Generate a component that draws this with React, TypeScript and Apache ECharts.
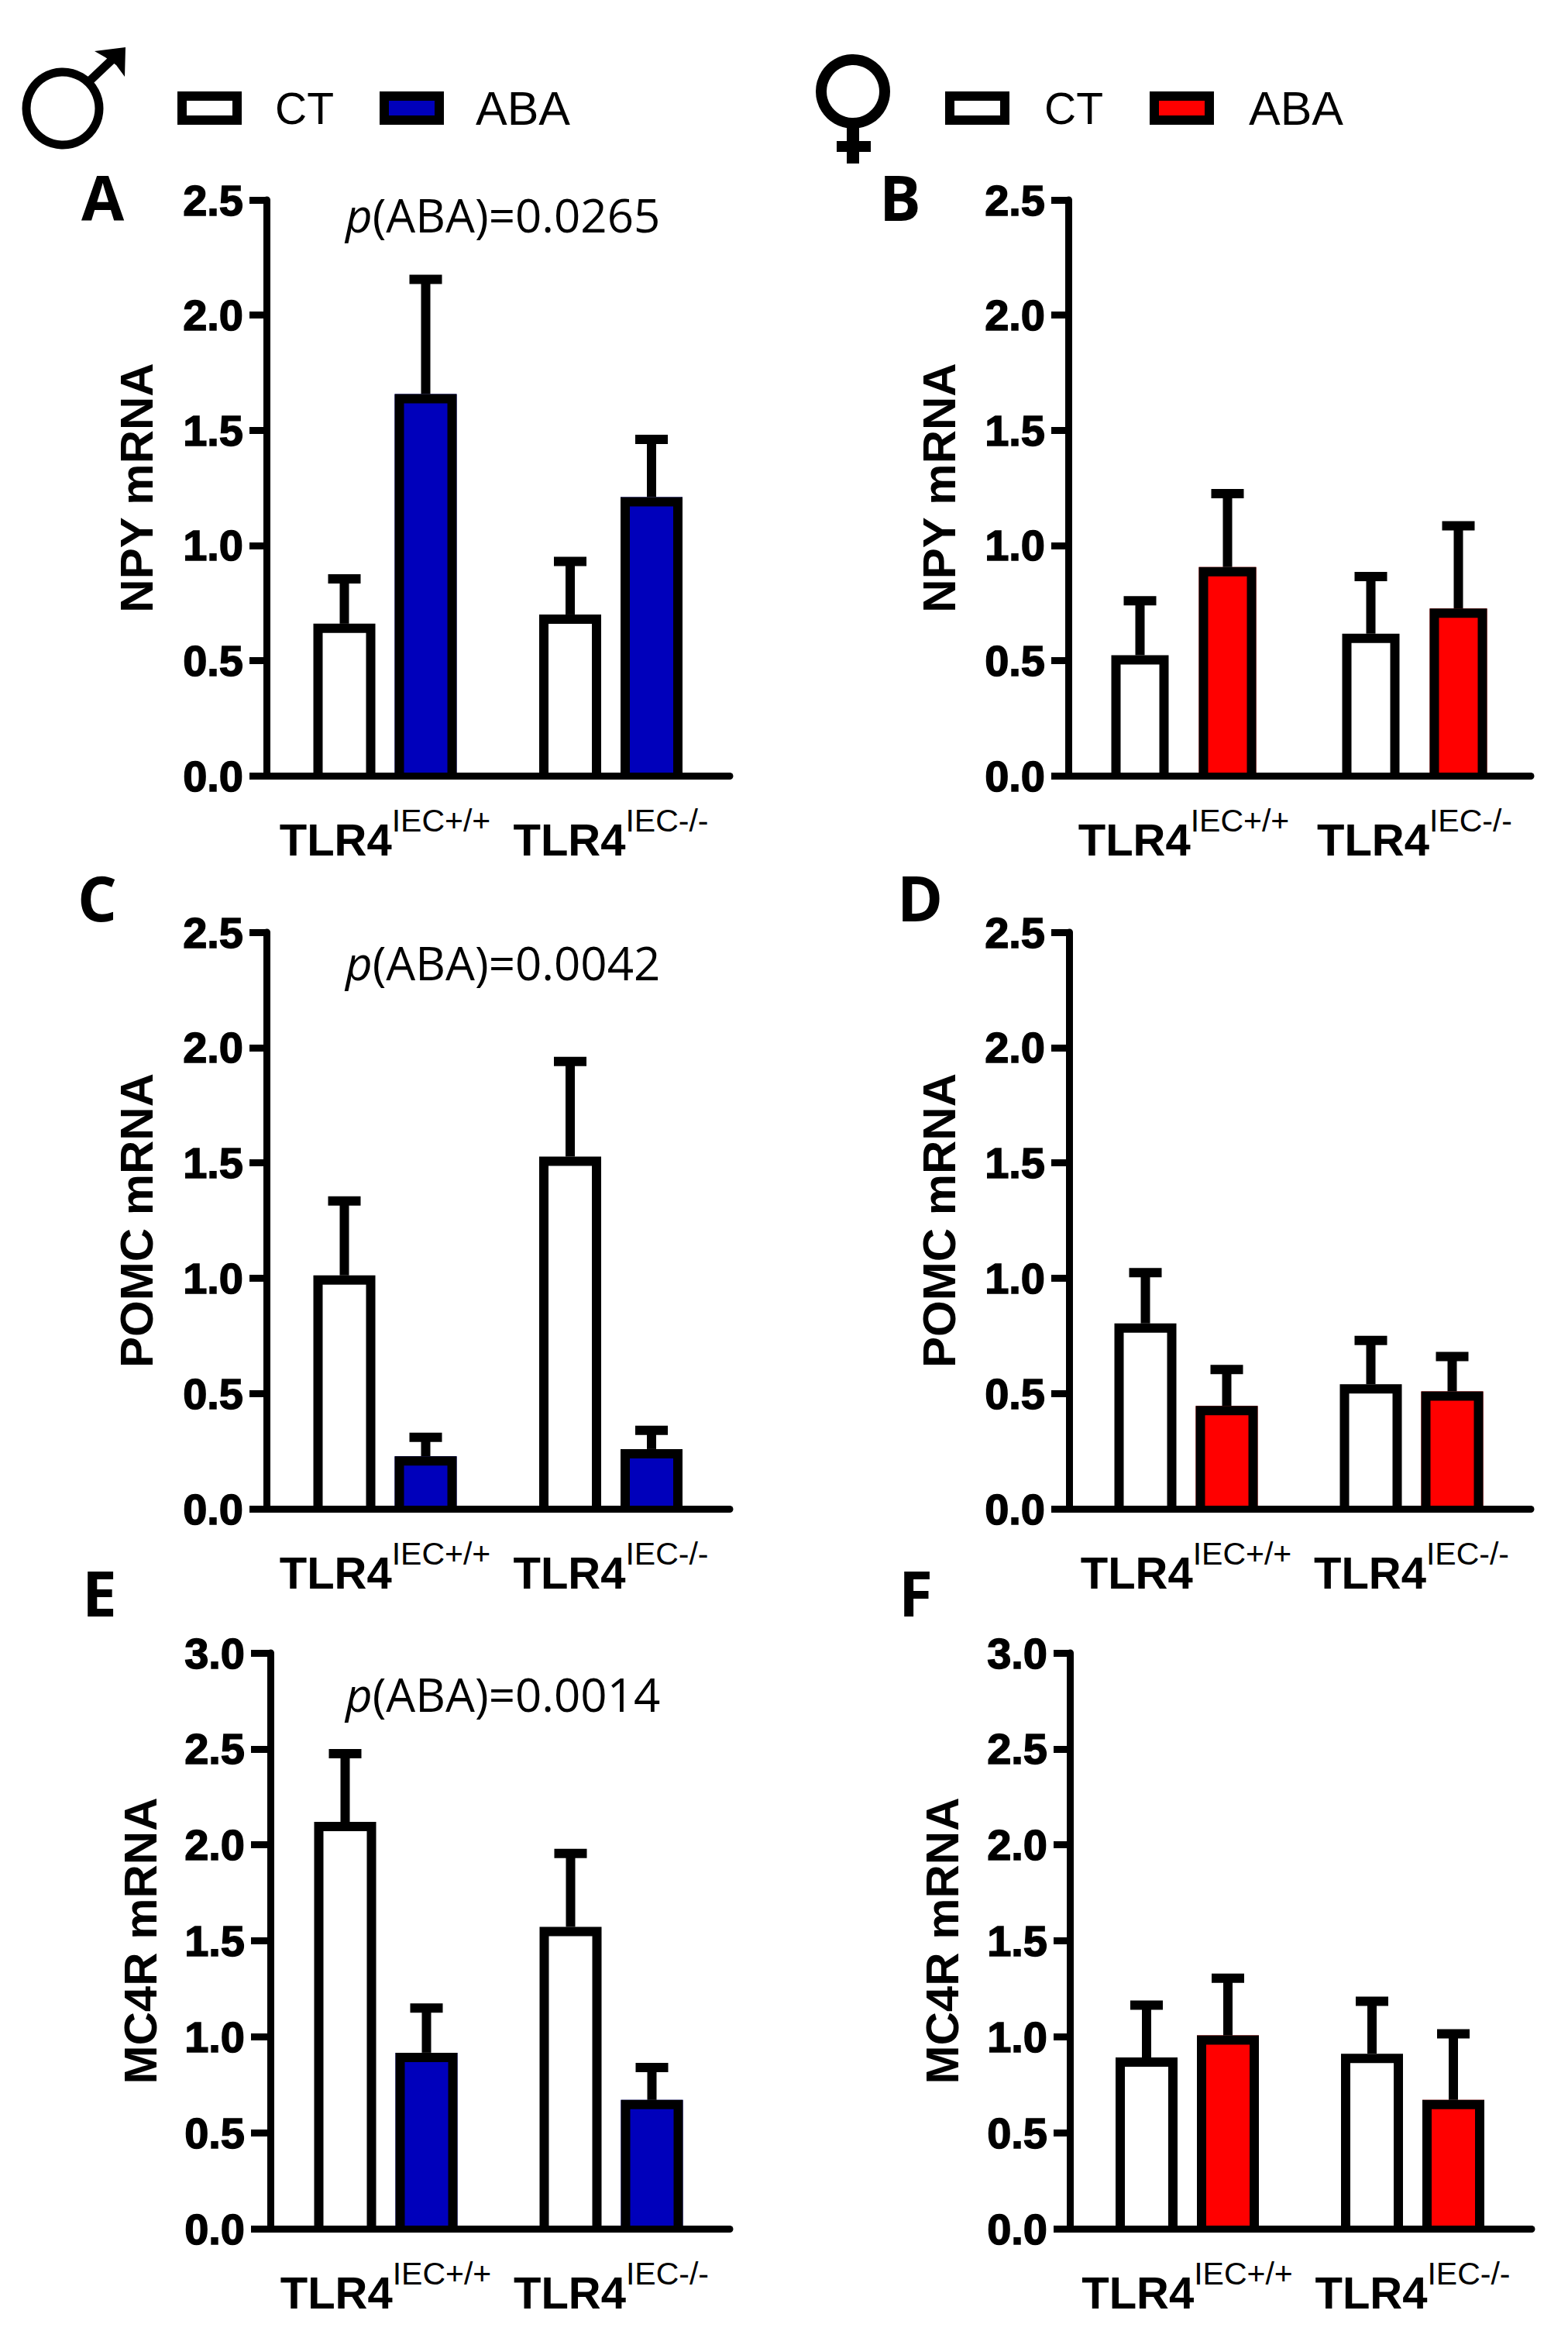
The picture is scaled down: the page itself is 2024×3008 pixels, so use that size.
import React, { useEffect, useRef } from "react";
import * as echarts from "echarts";

const groups = ["TLR4+/+", "TLR4-/-"];
const groupLabels = ["{b|TLR4}{s|IEC+/+}", "{b|TLR4}{s|IEC-/-}"];

const npyMaleCT = [0.66, 0.7];
const npyMaleABA = [1.657, 1.21];
const npyMaleCTTop = [0.855, 0.93];
const npyMaleABATop = [2.155, 1.46];

const npyFemaleCT = [0.523, 0.617];
const npyFemaleABA = [0.906, 0.726];
const npyFemaleCTTop = [0.76, 0.865];
const npyFemaleABATop = [1.225, 1.085];

const pomcMaleCT = [1.012, 1.527];
const pomcMaleABA = [0.228, 0.259];
const pomcMaleCTTop = [1.335, 1.94];
const pomcMaleABATop = [0.31, 0.34];

const pomcFemaleCT = [0.804, 0.54];
const pomcFemaleABA = [0.446, 0.509];
const pomcFemaleCTTop = [1.024, 0.73];
const pomcFemaleABATop = [0.604, 0.66];

const mc4rMaleCT = [2.12, 1.573];
const mc4rMaleABA = [0.917, 0.671];
const mc4rMaleCTTop = [2.475, 1.955];
const mc4rMaleABATop = [1.15, 0.84];

const mc4rFemaleCT = [0.892, 0.912];
const mc4rFemaleABA = [1.007, 0.671];
const mc4rFemaleCTTop = [1.165, 1.185];
const mc4rFemaleABATop = [1.305, 1.015];

const BLUE = "#0000bb";
const RED = "#ff0000";
const STROKE = 12;
const AXIS_W = 9;

const panels = [
  { letter: "A", name: "NPY mRNA", max: 2.5, color: BLUE, ct: npyMaleCT, aba: npyMaleABA, ctTop: npyMaleCTTop, abaTop: npyMaleABATop, p: "0.0265",
    axisX: 344, right: 942, left: 322, top: 258, bottom: 1001, center: [497, 788.5], spacing: 105, barW: 80, nameX: 176, letterX: 105, letterBase: 296, pBase: 307 },
  { letter: "B", name: "NPY mRNA", max: 2.5, color: RED, ct: npyFemaleCT, aba: npyFemaleABA, ctTop: npyFemaleCTTop, abaTop: npyFemaleABATop, p: "",
    axisX: 1379, right: 1976, left: 1357, top: 258, bottom: 1001, center: [1528, 1826], spacing: 113, barW: 74, nameX: 1212, letterX: 1135, letterBase: 296, pBase: 0 },
  { letter: "C", name: "POMC mRNA", max: 2.5, color: BLUE, ct: pomcMaleCT, aba: pomcMaleABA, ctTop: pomcMaleCTTop, abaTop: pomcMaleABATop, p: "0.0042",
    axisX: 344, right: 942, left: 322, top: 1203, bottom: 1947, center: [497, 788.5], spacing: 105, barW: 80, nameX: 176, letterX: 100, letterBase: 1200, pBase: 1272 },
  { letter: "D", name: "POMC mRNA", max: 2.5, color: RED, ct: pomcFemaleCT, aba: pomcFemaleABA, ctTop: pomcFemaleCTTop, abaTop: pomcFemaleABATop, p: "",
    axisX: 1380, right: 1976, left: 1357, top: 1203, bottom: 1947, center: [1531, 1822], spacing: 105, barW: 80, nameX: 1212, letterX: 1158, letterBase: 1200, pBase: 0 },
  { letter: "E", name: "MC4R mRNA", max: 3, color: BLUE, ct: mc4rMaleCT, aba: mc4rMaleABA, ctTop: mc4rMaleCTTop, abaTop: mc4rMaleABATop, p: "0.0014",
    axisX: 349, right: 942, left: 324, top: 2133, bottom: 2876, center: [498, 789], spacing: 105, barW: 80, nameX: 181, letterX: 106, letterBase: 2097, pBase: 2216 },
  { letter: "F", name: "MC4R mRNA", max: 3, color: RED, ct: mc4rFemaleCT, aba: mc4rFemaleABA, ctTop: mc4rFemaleCTTop, abaTop: mc4rFemaleABATop, p: "",
    axisX: 1381, right: 1977, left: 1360, top: 2133, bottom: 2876, center: [1532.5, 1823.5], spacing: 105, barW: 80, nameX: 1216, letterX: 1160, letterBase: 2097, pBase: 0 },
];

const W = 2024;
const H = 3008;
const BOLD = "'Liberation Sans', Arial, sans-serif";
const LETTER = "'Open Sans', sans-serif";

function buildOption() {
  const grid: any[] = [];
  const xAxis: any[] = [];
  const yAxis: any[] = [];
  const series: any[] = [];
  const graphic: any[] = [];

  panels.forEach((p, i) => {
    const height = p.bottom - p.top;
    // frame grid: draws the two axis lines, ticks, tick labels and the name
    grid.push({ left: p.axisX, top: p.top, width: p.right - p.axisX, height });
    xAxis.push({
      gridIndex: 2 * i, type: "value", min: 0, max: 1, position: "bottom", z: 6,
      axisLine: { show: true, onZero: false, lineStyle: { color: "#000", width: AXIS_W } },
      axisTick: { show: false }, axisLabel: { show: false }, splitLine: { show: false },
    });
    yAxis.push({
      gridIndex: 2 * i, type: "value", min: 0, max: p.max, interval: 0.5, z: 6,
      name: p.name, nameLocation: "middle", nameGap: p.axisX - p.nameX,
      nameRotate: 90,
      nameTextStyle: { fontFamily: BOLD, fontWeight: "bold", fontSize: 60, color: "#000", verticalAlign: "middle" },
      axisLine: { show: true, lineStyle: { color: "#000", width: AXIS_W } },
      axisTick: { show: true, length: p.axisX - p.left, lineStyle: { color: "#000", width: AXIS_W } },
      axisLabel: {
        margin: p.axisX - p.left + 8, fontFamily: BOLD, fontWeight: "bold", fontSize: 56, color: "#000",
        textBorderColor: "#000", textBorderWidth: 1.5,
        formatter: (v: number) => v.toFixed(1),
      },
      splitLine: { show: false },
    });

    // bar grid: one band per genotype, centred on the group
    const band = p.center[1] - p.center[0];
    grid.push({ left: p.center[0] - band / 2, top: p.top, width: band * 2, height });
    xAxis.push({
      gridIndex: 2 * i + 1, type: "category", data: groups,
      axisLine: { show: false }, axisTick: { show: false },
      axisLabel: {
        margin: 37, interval: 0,
        formatter: (_: string, idx: number) => groupLabels[idx],
        rich: {
          b: { fontFamily: BOLD, fontWeight: "bold", fontSize: 58, color: "#000", lineHeight: 90 },
          s: { fontFamily: BOLD, fontSize: 41, color: "#000", lineHeight: 44, verticalAlign: "top" },
        },
      },
    });
    yAxis.push({ gridIndex: 2 * i + 1, type: "value", min: 0, max: p.max, interval: 0.5, show: false, splitLine: { show: false } });

    // filled bars, no border: the open-bottomed outline is drawn above them
    const barGap = `${((p.spacing - p.barW) / p.barW) * 100}%`;
    const bar = (name: string, data: number[], color: string) => ({
      type: "bar", name, data, xAxisIndex: 2 * i + 1, yAxisIndex: 2 * i + 1,
      barWidth: p.barW, barGap, z: 2, itemStyle: { color },
    });
    series.push(bar("CT", p.ct, "#ffffff"), bar("ABA", p.aba, p.color));

    const outlines = (means: number[], tops: number[], sign: number) => ({
      type: "custom", xAxisIndex: 2 * i + 1, yAxisIndex: 2 * i + 1, z: 3, silent: true, clip: false,
      encode: { x: 0, y: [1, 2] },
      data: means.map((m, k) => [k, m, tops[k]]),
      renderItem: (_: any, api: any) => {
        const cat = api.value(0);
        const x = api.coord([cat, 0])[0] + (sign * p.spacing) / 2;
        const base = api.coord([cat, 0])[1];
        const y0 = api.coord([cat, api.value(1)])[1];
        const y1 = api.coord([cat, api.value(2)])[1];
        const style = { stroke: "#000", lineWidth: STROKE, fill: "none" };
        const half = (p.barW - STROKE) / 2;
        const yTop = y0 + STROKE / 2;
        return {
          type: "group",
          children: [
            { type: "polyline", shape: { points: [[x - half, base], [x - half, yTop], [x + half, yTop], [x + half, base]] }, style: { ...style, lineJoin: "miter" } },
            { type: "line", shape: { x1: x, y1: y0, x2: x, y2: y1 }, style },
            { type: "line", shape: { x1: x - 21, y1: y1, x2: x + 21, y2: y1 }, style },
          ],
        };
      },
    });
    series.push(outlines(p.ct, p.ctTop, -1), outlines(p.aba, p.abaTop, 1));

    graphic.push({
      type: "text", left: p.letterX, top: p.letterBase - 83,
      style: { text: p.letter, fontFamily: LETTER, fontWeight: "bold", fontSize: 80, fill: "#000" },
    });
    if (p.p) {
      graphic.push({
        type: "text", left: 446, top: p.pBase - 60,
        style: {
          text: `{i|p}{r|(ABA)=${p.p}}`,
          rich: {
            i: { fontFamily: LETTER, fontStyle: "italic", fontSize: 60, fill: "#000" },
            r: { fontFamily: LETTER, fontSize: 60, fill: "#000" },
          },
        },
      });
    }
  });

  // male symbol
  graphic.push(
    { type: "circle", shape: { cx: 81, cy: 140, r: 47 }, style: { fill: "none", stroke: "#000", lineWidth: 11 } },
    { type: "line", shape: { x1: 114, y1: 106, x2: 152, y2: 70 }, style: { stroke: "#000", lineWidth: 11 } },
    { type: "polygon", shape: { points: [[122, 66], [162, 61], [161, 99], [150, 84], [136, 74]] }, style: { fill: "#000" } },
  );
  // female symbol
  graphic.push(
    { type: "circle", shape: { cx: 1101, cy: 118, r: 41 }, style: { fill: "none", stroke: "#000", lineWidth: 14 } },
    { type: "rect", shape: { x: 1093, y: 158, width: 16, height: 53 }, style: { fill: "#000" } },
    { type: "rect", shape: { x: 1080, y: 182, width: 44, height: 14 }, style: { fill: "#000" } },
  );

  const legendBase = {
    icon: "rect", itemWidth: 71, itemHeight: 31, orient: "horizontal", selectedMode: false, padding: 0,
  };
  const legendItem = (name: string, color: string, fontSize: number, pad: number) => ({
    name, itemStyle: { color, borderColor: "#000", borderWidth: STROKE },
    textStyle: { fontFamily: BOLD, fontSize, color: "#000", padding: [0, 0, 0, pad] },
  });

  return {
    animation: false,
    backgroundColor: "#fff",
    grid, xAxis, yAxis, series, graphic,
    legend: [
      { ...legendBase, left: 229, top: 109, itemGap: 59, data: [legendItem("CT", "#fff", 57, 44), legendItem("ABA", BLUE, 61, 42)] },
      { ...legendBase, left: 1220, top: 109, itemGap: 60, data: [legendItem("CT", "#fff", 57, 46), legendItem("ABA", RED, 61, 46)] },
    ],
  };
}

export default function App() {
  const ref = useRef<HTMLDivElement>(null);
  useEffect(() => {
    document.body.style.margin = "0";
    const chart = echarts.init(ref.current!, null, { renderer: "svg" });
    chart.setOption(buildOption() as any);
    return () => chart.dispose();
  }, []);
  return <div ref={ref} style={{ width: W, height: H, background: "#fff" }} />;
}
